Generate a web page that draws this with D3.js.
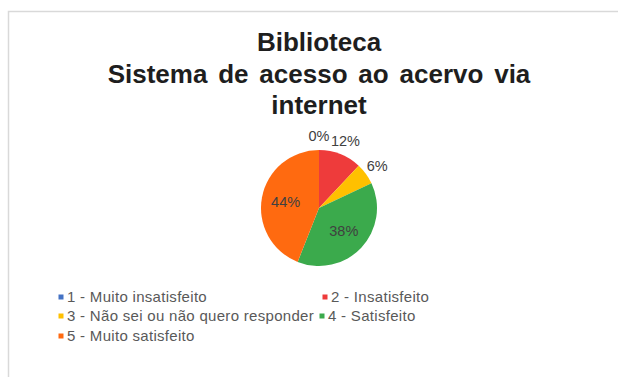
<!DOCTYPE html>
<html><head><meta charset="utf-8">
<script src="https://cdn.jsdelivr.net/npm/d3@7"></script>
<style>body{margin:0;background:#fff}svg{display:block}</style>
</head><body>
<svg id="c" width="618" height="377"></svg>
<script>
const titleLines = ["Biblioteca", "Sistema de acesso ao acervo via", "internet"];
const categories = ["1 - Muito insatisfeito", "2 - Insatisfeito", "3 - Não sei ou não quero responder", "4 - Satisfeito", "5 - Muito satisfeito"];
const values = [0, 12, 6, 38, 44];
const colors = ["#4472C4", "#EE3B3B", "#FFC000", "#3BAA4C", "#FF6A10"];

const svg = d3.select("#c");
const font = "'Liberation Sans', Arial, sans-serif";

svg.append("rect").attr("x", 8.5).attr("y", 11.5).attr("width", 700).attr("height", 500)
  .attr("fill", "#fff").attr("stroke", "#d9d9d9").attr("stroke-width", 1.5);

svg.append("g").selectAll("text").data(titleLines).join("text")
  .attr("x", 319).attr("y", (d, i) => 51 + i * 31.5)
  .attr("text-anchor", "middle").attr("font-family", font).attr("font-weight", "bold")
  .attr("font-size", 26).attr("word-spacing", 3.6).attr("fill", "#1e1e1e").text(d => d);

const cx = 319, cy = 208, r = 58;
const pie = d3.pie().sort(null).value(d => d);
const arcs = pie(values);
const arc = d3.arc().innerRadius(0).outerRadius(r);
const g = svg.append("g").attr("transform", `translate(${cx},${cy})`);
g.selectAll("path").data(arcs).join("path").attr("d", arc).attr("fill", (d, i) => colors[i]);

const inArc = d3.arc().innerRadius(34).outerRadius(34);
const outArc = d3.arc().innerRadius(72).outerRadius(72);
g.selectAll("text").data(arcs).join("text")
  .attr("transform", d => {
    const p = (d.data >= 20 ? inArc : outArc).centroid(d);
    return `translate(${p[0]},${p[1]})`;
  })
  .attr("text-anchor", "middle").attr("dy", "0.35em")
  .attr("font-family", font).attr("font-size", 14.5).attr("fill", "#404040")
  .text(d => d.data + "%");

const legendPos = [[61, 297], [325, 297], [61, 316], [322, 316], [61, 336]];
const lg = svg.append("g").selectAll("g").data(categories).join("g")
  .attr("transform", (d, i) => `translate(${legendPos[i][0]},${legendPos[i][1]})`);
lg.append("rect").attr("x", -2.5).attr("y", -2.5).attr("width", 5).attr("height", 5)
  .attr("fill", (d, i) => colors[i]);
lg.append("text").attr("x", 6).attr("dy", "0.35em").attr("font-family", font)
  .attr("font-size", 15).attr("letter-spacing", 0.3).attr("fill", "#595959").text(d => d);
</script>
</body></html>
